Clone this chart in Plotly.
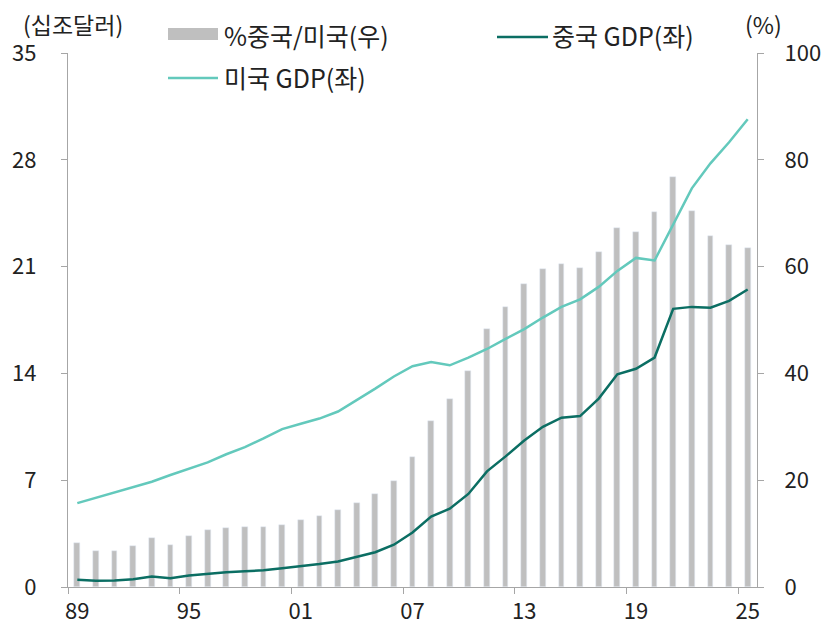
import plotly.graph_objects as go

# 연도 (1989~2025)
years = list(range(1989, 2026))

# %중국/미국 (우축, %)
ratio = [8.3, 6.8, 6.8, 7.6, 9.25, 7.9, 9.5, 10.6, 11.1, 11.3,
         11.3, 11.7, 12.6, 13.3, 14.4, 15.8, 17.4, 19.9, 24.4, 31.0,
         35.2, 40.4, 48.4, 52.5, 56.7, 59.5, 60.4, 59.7, 62.7, 67.3,
         66.4, 70.2, 76.8, 70.4, 65.7, 64.0, 63.5]

# 중국 GDP (좌축, 십조달러)
china_gdp = [0.47, 0.41, 0.42, 0.51, 0.69, 0.58, 0.75, 0.88, 0.97, 1.03,
             1.10, 1.23, 1.36, 1.50, 1.67, 1.96, 2.28, 2.77, 3.57, 4.62,
             5.13, 6.10, 7.58, 8.56, 9.60, 10.5, 11.1, 11.2, 12.35, 13.94,
             14.3, 15.04, 18.23, 18.36, 18.3, 18.75, 19.5]

# 미국 GDP (좌축, 십조달러)
us_gdp = [5.50, 5.85, 6.15, 6.55, 6.90, 7.34, 7.73, 8.17, 8.70, 9.17,
          9.74, 10.35, 10.7, 11.04, 11.5, 12.24, 13.0, 13.8, 14.47, 14.75,
          14.53, 15.04, 15.6, 16.26, 16.9, 17.66, 18.36, 18.85, 19.67, 20.72,
          21.57, 21.4, 23.72, 26.13, 27.77, 29.15, 30.66]

label_years = [1989, 1995, 2001, 2007, 2013, 2019, 2025]
label_text = ["89", "95", "01", "07", "13", "19", "25"]

BAR = "#BFBFBF"
CHINA = "#0B6E63"
US = "#63C9BC"
AXIS = "#A6A6A6"
FONT = "Noto Sans CJK KR"

fig = go.Figure()
fig.add_trace(go.Bar(x=years, y=ratio, marker_color=BAR, width=0.31,
                     name="%중국/미국(우)", yaxis="y"))
fig.add_trace(go.Scatter(x=years, y=us_gdp, mode="lines", name="미국 GDP(좌)",
                         line=dict(color=US, width=2.5), yaxis="y2"))
fig.add_trace(go.Scatter(x=years, y=china_gdp, mode="lines", name="중국 GDP(좌)",
                         line=dict(color=CHINA, width=2.5), yaxis="y2"))

# plot area in window px: x 68..757, y 53..587
FW, FH = 821, 626
L, R, T, B = 68, 757, 53, 587
W, H = R - L, B - T


def px(x):
    return (x - L) / W


def py(y):
    return (B - y) / H


fig.update_layout(
    width=FW, height=FH,
    margin=dict(l=L, r=FW - R, t=T, b=FH - B, autoexpand=False),
    paper_bgcolor="white", plot_bgcolor="white",
    font=dict(family=FONT, size=22, color="#222222"),
    showlegend=False,
    bargap=0,
    xaxis=dict(
        range=[1988.5, 2025.5], automargin=False,
        tickvals=label_years, ticktext=label_text, ticks="",
        showline=True, linecolor=AXIS, linewidth=1.3,
        showgrid=False, zeroline=False,
        minor=dict(tickvals=[y - 0.5 for y in label_years], ticks="outside",
                   ticklen=6, tickcolor=AXIS, tickwidth=1.3, showgrid=False),
        ticklabelstandoff=4,
    ),
    yaxis=dict(
        side="right", range=[0, 100], dtick=20, automargin=False,
        showline=True, linecolor=AXIS, linewidth=1.3,
        ticks="outside", ticklen=6, tickcolor=AXIS, tickwidth=1.3,
        showgrid=False, zeroline=False, ticklabelstandoff=16,
    ),
    yaxis2=dict(
        side="left", overlaying="y", range=[0, 35], dtick=7, automargin=False,
        showline=True, linecolor=AXIS, linewidth=1.3,
        ticks="outside", ticklen=6, tickcolor=AXIS, tickwidth=1.3,
        showgrid=False, zeroline=False, ticklabelstandoff=20,
    ),
)

# axis unit labels
fig.add_annotation(x=px(73), y=py(24), xref="paper", yref="paper",
                   text="(십조달러)", showarrow=False, font=dict(size=23),
                   xanchor="center", yanchor="middle")
fig.add_annotation(x=px(763), y=py(24), xref="paper", yref="paper",
                   text="(%)", showarrow=False, font=dict(size=23),
                   xanchor="center", yanchor="middle")

# legend drawn by hand
LEG = 25
fig.add_shape(type="rect", xref="paper", yref="paper",
              x0=px(168), x1=px(218), y0=py(40), y1=py(28),
              fillcolor=BAR, line=dict(width=0))
fig.add_annotation(x=px(222), y=py(35), xref="paper", yref="paper",
                   text="%중국/미국(우)", showarrow=False, font=dict(size=LEG),
                   xanchor="left", yanchor="middle")
fig.add_shape(type="line", xref="paper", yref="paper",
              x0=px(497), x1=px(548), y0=py(37), y1=py(37),
              line=dict(color=CHINA, width=2.5))
fig.add_annotation(x=px(550), y=py(35), xref="paper", yref="paper",
                   text="중국 GDP(좌)", showarrow=False, font=dict(size=LEG),
                   xanchor="left", yanchor="middle")
fig.add_shape(type="line", xref="paper", yref="paper",
              x0=px(168), x1=px(218), y0=py(78), y1=py(78),
              line=dict(color=US, width=2.5))
fig.add_annotation(x=px(222), y=py(77), xref="paper", yref="paper",
                   text="미국 GDP(좌)", showarrow=False, font=dict(size=LEG),
                   xanchor="left", yanchor="middle")

# drop the page's default 8px body margin so the figure fills the window
fig.write_html("out.html", config={"displayModeBar": False},
               post_script="document.body.style.margin='0';"
                           "document.body.style.overflow='hidden';")
